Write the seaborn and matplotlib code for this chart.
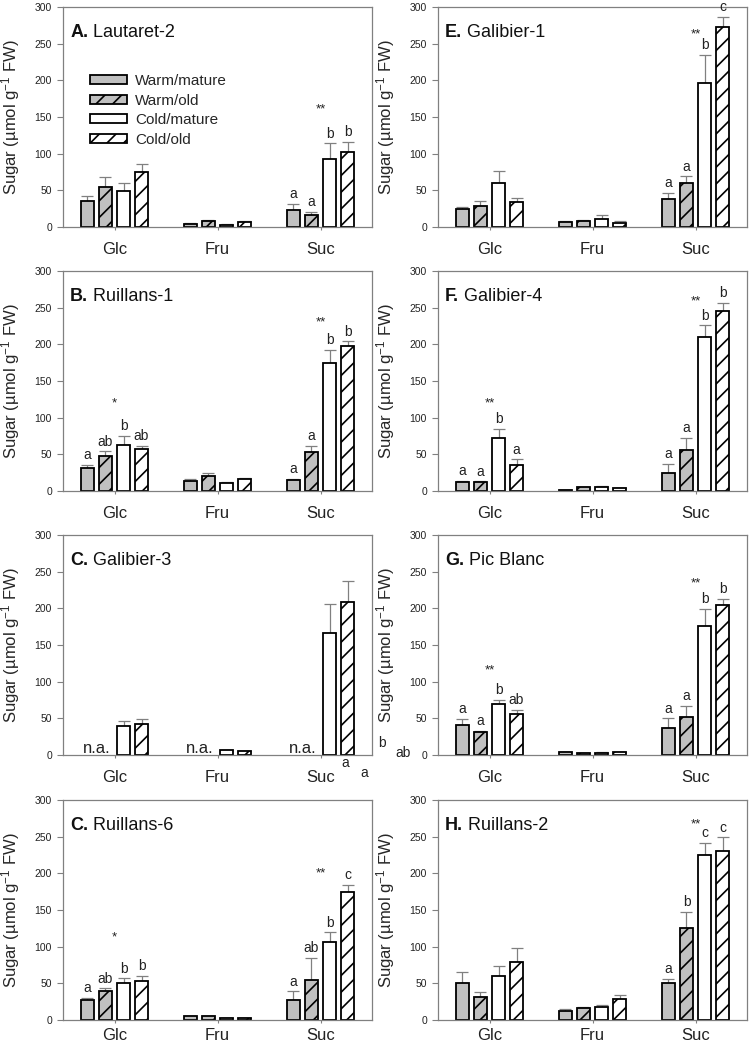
import numpy as np
import pandas as pd
import matplotlib
matplotlib.use("Agg")
import matplotlib.pyplot as plt
import seaborn as sns
from matplotlib.patches import Patch

sugars = ["Glc", "Fru", "Suc"]
groups = ["Warm/mature", "Warm/old", "Cold/mature", "Cold/old"]

# values listed as Glc x4, Fru x4, Suc x4 (group order as above)
lautaret2_mean = [36, 54, 49.5, 74.5, 4, 7.7, 3, 6.8, 23, 16, 93, 102]
lautaret2_se = [6, 14, 10.5, 11.5, 1, 2.3, 0.5, 0.9, 9, 5, 21, 14]
lautaret2_letters = ["", "", "", "", "", "", "", "", "a", "a", "b", "b"]

ruillans1_mean = [32, 48, 63, 57.5, 14, 21, 11, 16, 14.5, 53, 175, 198]
ruillans1_se = [4, 6, 12, 3.5, 2, 4, 1, 1.5, 1.5, 9, 17, 6]
ruillans1_letters = ["a", "ab", "b", "ab", "", "", "", "", "a", "a", "b", "b"]

galibier3_mean = [np.nan, np.nan, 39.5, 42, np.nan, np.nan, 6.4, 5.5, np.nan, np.nan, 167, 209]
galibier3_se = [0, 0, 7.5, 6.6, 0, 0, 0.5, 0.5, 0, 0, 39, 28]
galibier3_letters = [""] * 12

ruillans6_mean = [27, 40, 50, 53.4, 5, 5, 2.7, 2.3, 27, 54, 106, 175]
ruillans6_se = [3, 3, 6.6, 6.6, 0.4, 0.5, 0.3, 0.3, 12, 31, 13.5, 9]
ruillans6_letters = ["a", "ab", "b", "b", "", "", "", "", "a", "ab", "b", "c"]

galibier1_mean = [24.5, 29, 60, 34, 6.8, 8.6, 11, 6, 38.5, 59.4, 196, 273]
galibier1_se = [3, 7, 17, 6, 0.7, 1.4, 6, 2.6, 8.5, 9.6, 39, 14]
galibier1_letters = ["", "", "", "", "", "", "", "", "a", "a", "b", "c"]

galibier4_mean = [12.7, 12.7, 72, 36, 1.5, 5, 5, 4, 25, 56, 210, 246]
galibier4_se = [1.3, 0.5, 13, 7, 0.3, 1, 2, 0.5, 12, 16, 16, 11]
galibier4_letters = ["a", "a", "b", "a", "", "", "", "", "a", "a", "b", "b"]

picblanc_mean = [41, 32, 69, 55.5, 3.6, 2.3, 3.2, 3.6, 37, 52, 176, 204]
picblanc_se = [8, 1, 6, 5.5, 0.3, 0.3, 0.3, 0.3, 13, 15, 23, 9]
picblanc_letters = ["a", "a", "b", "ab", "", "", "", "", "a", "a", "b", "b"]

ruillans2_mean = [50.7, 31.7, 60.6, 79, 11.8, 16.3, 17.6, 28, 50, 126, 225, 230]
ruillans2_se = [14.3, 6.3, 12.4, 19, 2.7, 1.3, 2.4, 6, 5.6, 21, 16.6, 19]
ruillans2_letters = ["", "", "", "", "", "", "", "", "a", "b", "c", "c"]

# significance stars: (sugar, text, y)
lautaret2_stars = [("Suc", "**", 160)]
ruillans1_stars = [("Glc", "*", 120), ("Suc", "**", 230)]
galibier3_stars = []
ruillans6_stars = [("Glc", "*", 113), ("Suc", "**", 200)]
galibier1_stars = [("Suc", "**", 263)]
galibier4_stars = [("Glc", "**", 120), ("Suc", "**", 258)]
picblanc_stars = [("Glc", "**", 116), ("Suc", "**", 234)]
ruillans2_stars = [("Suc", "**", 267)]

panels = [
    ("A.", "Lautaret-2", lautaret2_mean, lautaret2_se, lautaret2_letters, lautaret2_stars),
    ("B.", "Ruillans-1", ruillans1_mean, ruillans1_se, ruillans1_letters, ruillans1_stars),
    ("C.", "Galibier-3", galibier3_mean, galibier3_se, galibier3_letters, galibier3_stars),
    ("C.", "Ruillans-6", ruillans6_mean, ruillans6_se, ruillans6_letters, ruillans6_stars),
    ("E.", "Galibier-1", galibier1_mean, galibier1_se, galibier1_letters, galibier1_stars),
    ("F.", "Galibier-4", galibier4_mean, galibier4_se, galibier4_letters, galibier4_stars),
    ("G.", "Pic Blanc", picblanc_mean, picblanc_se, picblanc_letters, picblanc_stars),
    ("H.", "Ruillans-2", ruillans2_mean, ruillans2_se, ruillans2_letters, ruillans2_stars),
]

colors = {"Warm/mature": "#c0c0c0", "Warm/old": "#c0c0c0",
          "Cold/mature": "white", "Cold/old": "white"}
hatches = {"Warm/mature": "", "Warm/old": "//", "Cold/mature": "", "Cold/old": "//"}

sns.set_style("ticks")
plt.rcParams["font.family"] = ["Liberation Sans", "DejaVu Sans"]
plt.rcParams["mathtext.fontset"] = "custom"
plt.rcParams["mathtext.rm"] = "Liberation Sans"
plt.rcParams["mathtext.it"] = "Liberation Sans:italic"
plt.rcParams["hatch.linewidth"] = 1.2
grey = "#808080"

fig = plt.figure(figsize=(7.5, 10.46), dpi=100)
lefts = [0.084, 0.584]
bottoms = [0.783, 0.5306, 0.2782, 0.0249]
W, H = 0.412, 0.2103


def make_frame(means, ses):
    rows = []
    for i, (m, s) in enumerate(zip(means, ses)):
        rows.append({"sugar": sugars[i // 4], "group": groups[i % 4], "value": m, "se": s})
    return pd.DataFrame(rows)


axes = []
for k, (tag, name, means, ses, letters, stars) in enumerate(panels):
    col, row = k // 4, k % 4
    ax = fig.add_axes([lefts[col], bottoms[row], W, H])
    axes.append(ax)
    df = make_frame(means, ses)
    sns.barplot(data=df.dropna(), x="sugar", y="value", hue="group", order=sugars,
                hue_order=groups, palette=colors, saturation=1, width=0.7, gap=0.3,
                errorbar=None, legend=False, edgecolor="black", linewidth=1.3,
                ax=ax, zorder=2)

    lookup = {(r.sugar, r.group): (r.se, l) for r, l in zip(df.itertuples(), letters)}
    for g, cont in zip(groups, ax.containers):
        for p in cont.patches:
            p.set_hatch(hatches[g])
            xc = p.get_x() + p.get_width() / 2
            h = p.get_height()
            if not np.isfinite(h):
                continue
            s_name = sugars[int(round(xc))]
            se, let = lookup[(s_name, g)]
            ax.errorbar([xc], [h], yerr=[[0], [se]], fmt="none", ecolor=grey,
                        elinewidth=0.9, capsize=4.5, capthick=0.9, zorder=1)
            if let:
                ax.annotate(let, (xc, h + se), xytext=(0, 2), textcoords="offset points",
                            ha="center", va="bottom", fontsize=10, color="#222222")

    for s_name, txt, yy in stars:
        ax.text(sugars.index(s_name), yy, txt, ha="center", va="center",
                fontsize=9.5, color="#222222")

    if name == "Galibier-3":
        for i, s_name in enumerate(sugars):
            ax.text(i - 0.175, 9, "n.a.", ha="center", va="center", fontsize=12,
                    color="#222222")
        # stray significance letters printed outside the frame in the original
        for sx, sy, st in [(2.24, -11, "a"), (2.42, -25, "a"), (2.6, 16, "b"), (2.8, 3, "ab")]:
            ax.text(sx, sy, st, ha="center", va="center", fontsize=10,
                    color="#222222", clip_on=False)

    ax.set_xlim(-0.5, 2.5)
    ax.set_ylim(0, 300)
    ax.set_yticks(np.arange(0, 301, 50))
    ax.set_xlabel("")
    ax.set_ylabel("Sugar (µmol g$^{-1}$ FW)", fontsize=12)
    ax.yaxis.set_label_coords(-0.132, 0.5)
    for sp in ax.spines.values():
        sp.set_visible(True)
        sp.set_color(grey)
        sp.set_linewidth(0.9)
    ax.tick_params(axis="y", direction="out", length=4, width=0.8, color=grey,
                   labelsize=7.5, pad=4, labelcolor="#222222")
    ax.tick_params(axis="x", direction="out", length=2.5, width=0.8, color=grey,
                   labelsize=12, pad=8 if row < 3 else 3, labelcolor="#222222")

    t = ax.text(0.023, 0.886, tag, transform=ax.transAxes, fontsize=13,
                fontweight="bold", va="center", color="#111111")
    ax.annotate(" " + name, xy=(1, 0.5), xycoords=t, va="center", fontsize=13,
                color="#111111")

handles = [Patch(facecolor=colors[g], edgecolor="black", hatch=hatches[g], linewidth=1.3)
           for g in groups]
axes[0].legend(handles, groups, loc="upper left", bbox_to_anchor=(0.088, 0.695),
               frameon=False, fontsize=11, handlelength=2.4, handleheight=0.5,
               handletextpad=0.55, labelspacing=0.36, borderpad=0, borderaxespad=0)

fig.savefig("out.png", dpi=100)
